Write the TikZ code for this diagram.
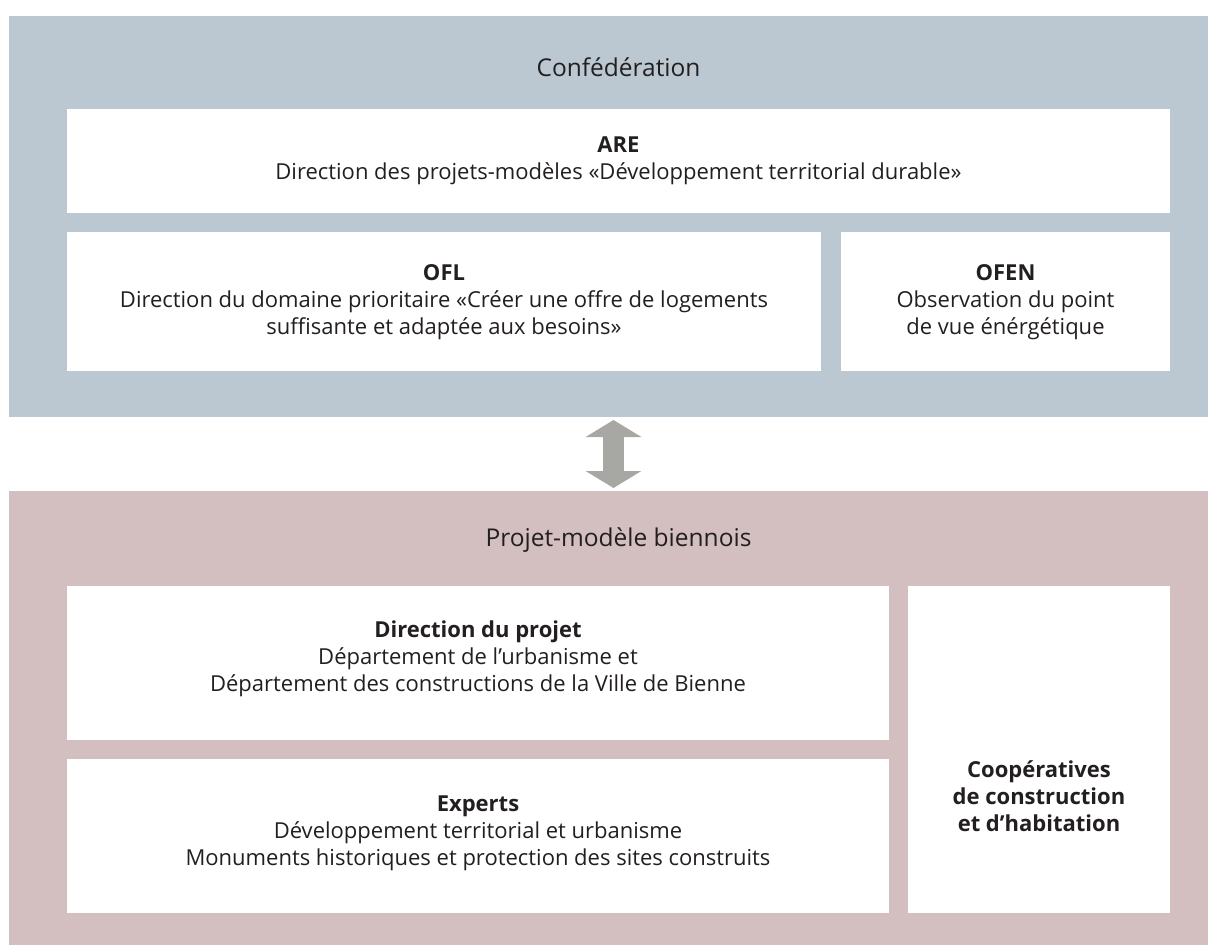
\documentclass[tikz,border=0pt]{standalone}
\usepackage{fontspec}
\setmainfont{Open Sans}
\usetikzlibrary{arrows.meta}
\definecolor{blueP}{HTML}{BBC8D1}
\definecolor{pinkP}{HTML}{D3BEC0}
\definecolor{txt}{HTML}{231F20}
\definecolor{arrowG}{HTML}{A7A8A3}
\tikzset{
  panel/.style={anchor=north west, inner sep=0pt, outer sep=0pt, draw=none},
  wbox/.style={anchor=north west, inner sep=0pt, outer sep=0pt, fill=white, draw=none},
  lbl/.style={align=center, text=txt, inner sep=0pt, font=\fontsize{22pt}{27pt}\selectfont},
  ttl/.style={text=txt, inner sep=0pt, font=\fontsize{24.5pt}{28pt}\selectfont},
}
\begin{document}
\begin{tikzpicture}[x=1pt,y=-1pt]
\useasboundingbox (0,0) rectangle (1208,945);
% panels
\node[panel, fill=blueP, minimum width=1199pt, minimum height=401pt] (conf) at (9,16) {};
\node[panel, fill=pinkP, minimum width=1199pt, minimum height=454pt] (bien) at (9,491) {};
% boxes top
\node[wbox, minimum width=1103pt, minimum height=104pt] (are) at (67,109) {};
\node[wbox, minimum width=754pt, minimum height=139pt] (ofl) at (67,232) {};
\node[wbox, minimum width=329pt, minimum height=139pt] (ofen) at (841,232) {};
% boxes bottom
\node[wbox, minimum width=822pt, minimum height=154pt] (dir) at (67,586) {};
\node[wbox, minimum width=822pt, minimum height=154pt] (exp) at (67,759) {};
\node[wbox, minimum width=262pt, minimum height=327pt] (coop) at (908,586) {};
% titles
\node[ttl] (tconf) at (618.5,67) {Confédération};
\node[ttl] (tbien) at (618.5,540) {Projet-modèle biennois};
% texts
\node[lbl] (tare) at (618.5,161) {\textbf{ARE}\\Direction des projets-modèles «Développement territorial durable»};
\node[lbl] (tofl) at (444,302) {\textbf{OFL}\\Direction du domaine prioritaire «Créer une offre de logements\\suffisante et adaptée aux besoins»};
\node[lbl] (tofen) at (1005.5,302) {\textbf{OFEN}\\Observation du point\\de vue énérgétique};
\node[lbl] (tdir) at (478,658.5) {\textbf{Direction du projet}\\Département de l'urbanisme et\\Département des constructions de la Ville de Bienne};
\node[lbl] (texp) at (478,833) {\textbf{Experts}\\Développement territorial et urbanisme\\Monuments historiques et protection des sites construits};
\node[lbl, font=\fontsize{22pt}{27pt}\selectfont\bfseries] (tcoop) at (1039,796) {Coopératives\\de construction\\et d'habitation};
% arrow
\coordinate (atop) at (613.5,420);
\coordinate (abot) at (613.5,488);
\draw[arrowG, line width=21pt, {Triangle[width=55pt,length=17pt]}-{Triangle[width=55pt,length=17pt]}] (atop) -- (abot);
\end{tikzpicture}
\end{document}
